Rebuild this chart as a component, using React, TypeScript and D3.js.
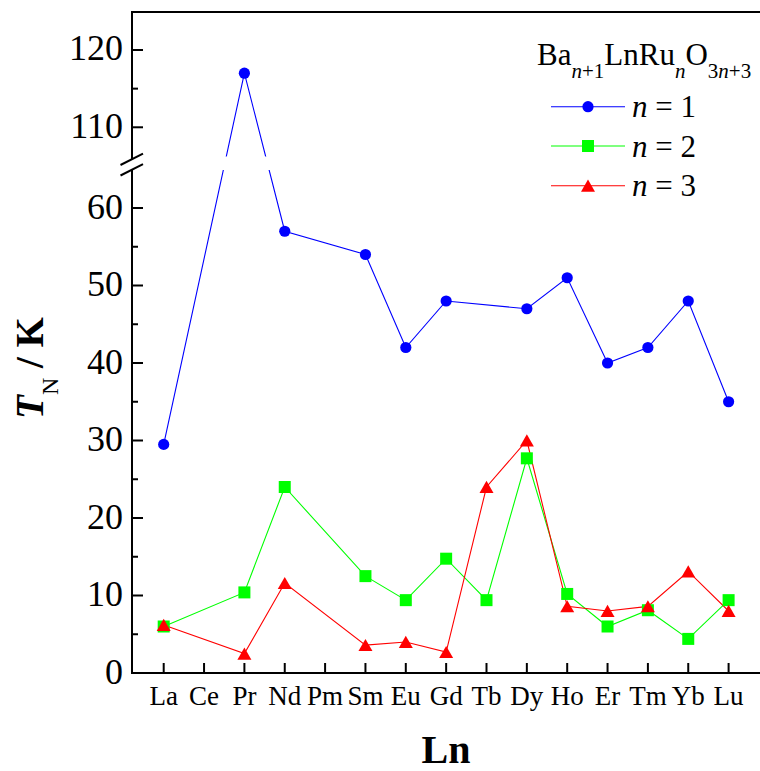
import React from "react";
import * as d3 from "d3";

const categories = ["La", "Ce", "Pr", "Nd", "Pm", "Sm", "Eu", "Gd", "Tb", "Dy", "Ho", "Er", "Tm", "Yb", "Lu"];
const n1 = [29.5, null, 117, 57, null, 54, 42, 48, null, 47, 51, 40, 42, 48, 35];
const n2 = [6, null, 10.4, 24, null, 12.5, 9.4, 14.75, 9.4, 27.7, 10.2, 6, 8.1, 4.4, 9.4];
const n3 = [6.2, null, 2.5, 11.6, null, 3.6, 4.0, 2.7, 24, 30, 8.6, 8.0, 8.6, 13.1, 8.0];
const lowMajorTicks = [0, 10, 20, 30, 40, 50, 60];
const lowMinorTicks = [5, 15, 25, 35, 45, 55];
const highMajorTicks = [110, 120];
const highMinorTicks = [115];
const legendLabels = ["1", "2", "3"];

const W = 760;
const H = 771;
const left = 132;
const right = 760;
const top = 12;
const bottom = 673;

const x = d3.scalePoint<string>().domain(categories).range([163.7, 728.6]);
const yLow = d3.scaleLinear().domain([0, 65]).range([bottom, 169.25]);
const yHigh = d3.scaleLinear().domain([106, 125]).range([158.2, 11.35]);
const y = (v: number) => (v >= 85 ? yHigh(v) : yLow(v));

const FONT = "'Liberation Serif', 'Times New Roman', serif";

type Pt = { c: string; v: number };
const toPts = (arr: (number | null)[]): Pt[] =>
  arr.map((v, i) => ({ c: categories[i], v: v as number })).filter((d, i) => arr[i] !== null);

const line = d3
  .line<Pt>()
  .x((d) => x(d.c) as number)
  .y((d) => y(d.v));

const series = [
  { data: toPts(n1), color: "#0000ff", shape: "circle" },
  { data: toPts(n2), color: "#00ff00", shape: "square" },
  { data: toPts(n3), color: "#ff0000", shape: "triangle" },
];

function Marker({ shape, cx, cy, color }: { shape: string; cx: number; cy: number; color: string }) {
  if (shape === "circle") return <circle cx={cx} cy={cy} r={5.6} fill={color} />;
  if (shape === "square") return <rect x={cx - 6} y={cy - 6} width={12} height={12} fill={color} />;
  return <path d={`M${cx},${cy - 6.2}L${cx + 7},${cy + 6}L${cx - 7},${cy + 6}Z`} fill={color} />;
}

export default function App() {
  const legendYs = [106.7, 146, 185.7];
  return (
    <div style={{ position: "absolute", left: 0, top: 0 }}>
      <svg width={W} height={H} style={{ display: "block", background: "#fff" }} fontFamily={FONT}>
        <defs>
          <clipPath id="gapclip">
            <rect x={left + 1} y={0} width={right - left} height={156.5} />
            <rect x={left + 1} y={170} width={right - left} height={H - 170} />
          </clipPath>
        </defs>

        {/* data lines */}
        <g clipPath="url(#gapclip)">
          {series.map((s, i) => (
            <path key={i} d={line(s.data) || ""} fill="none" stroke={s.color} strokeWidth={1.1} />
          ))}
        </g>
        {/* markers */}
        {series.map((s, i) => (
          <g key={i}>
            {s.data.map((d, j) => (
              <Marker key={j} shape={s.shape} cx={x(d.c) as number} cy={y(d.v)} color={s.color} />
            ))}
          </g>
        ))}

        {/* axes frame */}
        <line x1={left} x2={right} y1={top} y2={top} stroke="#000" strokeWidth={2} />
        <line x1={left - 1} x2={right} y1={bottom} y2={bottom} stroke="#000" strokeWidth={2} />
        <line x1={left} x2={left} y1={top - 1} y2={159.3} stroke="#000" strokeWidth={2} />
        <line x1={left} x2={left} y1={169.8} y2={bottom} stroke="#000" strokeWidth={2} />
        {/* break marks */}
        <line x1={120.5} y1={165} x2={143} y2={153.7} stroke="#000" strokeWidth={2} />
        <line x1={120.5} y1={175.5} x2={143} y2={164.2} stroke="#000" strokeWidth={2} />

        {/* y ticks */}
        {lowMajorTicks.map((t) => (
          <g key={"lm" + t}>
            <line x1={left} x2={left + 11} y1={yLow(t)} y2={yLow(t)} stroke="#000" strokeWidth={2} />
            <text x={123} y={yLow(t) + 10.5} textAnchor="end" fontSize={36}>
              {t}
            </text>
          </g>
        ))}
        {lowMinorTicks.map((t) => (
          <line key={"ln" + t} x1={left} x2={left + 6} y1={yLow(t)} y2={yLow(t)} stroke="#000" strokeWidth={2} />
        ))}
        {highMajorTicks.map((t) => (
          <g key={"hm" + t}>
            <line x1={left} x2={left + 11} y1={yHigh(t)} y2={yHigh(t)} stroke="#000" strokeWidth={2} />
            <text x={123} y={yHigh(t) + 10.5} textAnchor="end" fontSize={36}>
              {t}
            </text>
          </g>
        ))}
        {highMinorTicks.map((t) => (
          <line key={"hn" + t} x1={left} x2={left + 6} y1={yHigh(t)} y2={yHigh(t)} stroke="#000" strokeWidth={2} />
        ))}

        {/* x ticks */}
        {categories.map((c) => (
          <g key={c}>
            <line x1={x(c) as number} x2={x(c) as number} y1={bottom} y2={bottom - 10} stroke="#000" strokeWidth={2} />
            <text x={x(c) as number} y={705} textAnchor="middle" fontSize={27}>
              {c}
            </text>
          </g>
        ))}

        {/* axis titles */}
        <text x={446} y={763} textAnchor="middle" fontSize={40} fontWeight="bold">
          Ln
        </text>
        <text transform="translate(43,368) rotate(-90)" textAnchor="middle" fontSize={39} fontWeight="bold">
          <tspan fontStyle="italic">T</tspan>
          <tspan fontSize={24} fontWeight="normal" dy={15}>
            N
          </tspan>
          <tspan dy={-15}> / K</tspan>
        </text>

        {/* legend */}
        <text x={537} y={65} fontSize={31}>
          Ba
          <tspan fontSize={21} dy={13}>
            <tspan fontStyle="italic">n</tspan>+1
          </tspan>
          <tspan dy={-13}>LnRu</tspan>
          <tspan fontSize={21} dy={13} fontStyle="italic">
            n
          </tspan>
          <tspan dy={-13}>O</tspan>
          <tspan fontSize={21} dy={13}>
            3<tspan fontStyle="italic">n</tspan>+3
          </tspan>
        </text>
        {series.map((s, i) => (
          <g key={"leg" + i}>
            <line x1={551} x2={625} y1={legendYs[i]} y2={legendYs[i]} stroke={s.color} strokeWidth={1.1} />
            <Marker shape={s.shape} cx={588} cy={legendYs[i]} color={s.color} />
            <text x={632} y={legendYs[i] + 10.7} fontSize={31}>
              <tspan fontStyle="italic">n</tspan> = {legendLabels[i]}
            </text>
          </g>
        ))}
      </svg>
    </div>
  );
}
